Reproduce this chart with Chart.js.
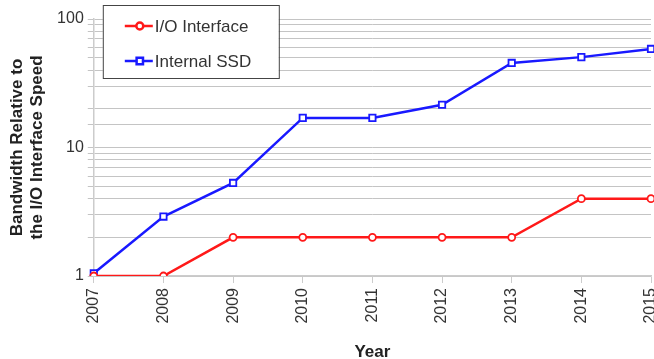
<!DOCTYPE html>
<html>
<head>
<meta charset="utf-8">
<script src="https://cdn.jsdelivr.net/npm/chart.js@4/dist/chart.umd.min.js"></script>
<style>
    html, body { margin: 0; padding: 0; background: #fff; }
    #grafico { width: 654px; height: 359px; }
</style>
</head>
<body>
<div id="grafico"><canvas id="chartBanda"></canvas></div>
<script>
const anos = ['2007', '2008', '2009', '2010', '2011', '2012', '2013', '2014', '2015'];
const interfaceIO = [1, 1, 2, 2, 2, 2, 2, 4, 4];
const ssdInterno = [1.05, 2.9, 5.3, 17, 17, 21.5, 45.5, 50.5, 58.5];
const ticksY = [1, 10, 100];

const FONTE = '"Liberation Sans", Arial, Helvetica, sans-serif';

// legenda desenhada dentro da área do gráfico, com moldura
const legendaCaixa = {
    id: 'legendaCaixa',
    afterDraw(chart) {
        const ctx = chart.ctx;
        const area = chart.chartArea;
        const x = area.left + 9;
        const y = 5;
        ctx.save();
        ctx.fillStyle = '#fff';
        ctx.fillRect(x, y, 176, 73);
        ctx.strokeStyle = '#444';
        ctx.lineWidth = 1;
        ctx.strokeRect(x + 0.5, y + 0.5, 176, 73);

        chart.data.datasets.forEach((ds, i) => {
            const cy = y + 21 + i * 35;
            ctx.strokeStyle = ds.borderColor;
            ctx.lineWidth = 2.5;
            ctx.beginPath();
            ctx.moveTo(x + 22, cy);
            ctx.lineTo(x + 50, cy);
            ctx.stroke();
            ctx.fillStyle = '#fff';
            Chart.helpers.drawPoint(ctx, {
                pointStyle: ds.pointStyle,
                radius: ds.pointRadius,
                borderWidth: 1.8
            }, x + 37, cy);
            ctx.fillStyle = '#333';
            ctx.font = '17px ' + FONTE;
            ctx.textBaseline = 'middle';
            ctx.fillText(ds.label, x + 52, cy + 1);
        });
        ctx.restore();
    }
};

new Chart(document.getElementById('chartBanda'), {
    type: 'line',
    data: {
        labels: anos,
        datasets: [{
            label: 'I/O Interface',
            data: interfaceIO,
            borderColor: 'rgb(255, 25, 25)',
            backgroundColor: '#fff',
            pointBackgroundColor: '#fff',
            pointBorderColor: 'rgb(255, 25, 25)',
            pointStyle: 'circle',
            pointRadius: 3.5,
            pointBorderWidth: 1.8,
            borderWidth: 2.5,
            tension: 0
        }, {
            label: 'Internal SSD',
            data: ssdInterno,
            borderColor: 'rgb(25, 25, 255)',
            backgroundColor: '#fff',
            pointBackgroundColor: '#fff',
            pointBorderColor: 'rgb(25, 25, 255)',
            pointStyle: 'rect',
            pointRadius: 4.5,
            pointBorderWidth: 1.8,
            borderWidth: 2.5,
            tension: 0
        }]
    },
    options: {
        responsive: true,
        maintainAspectRatio: false,
        animation: false,
        layout: {
            autoPadding: false,
            padding: { left: 8, right: 3, top: 19, bottom: 0 }
        },
        scales: {
            x: {
                offset: false,
                afterFit: function (escala) {
                    // o rótulo 2015 fica cortado na borda, como no original
                    escala.paddingRight = 0;
                    escala.paddingLeft = 0;
                },
                grid: {
                    drawOnChartArea: false,
                    drawTicks: true,
                    tickLength: 7,
                    color: '#ccc'
                },
                border: { color: '#ccc', width: 1.5 },
                ticks: {
                    minRotation: 90,
                    maxRotation: 90,
                    padding: 5,
                    color: '#333',
                    font: { family: FONTE, size: 16 }
                },
                title: {
                    display: true,
                    text: 'Year',
                    color: '#222',
                    padding: { top: 14, bottom: -4 },
                    font: { family: FONTE, size: 17, weight: 'bold' }
                }
            },
            y: {
                type: 'logarithmic',
                min: 1,
                max: 100,
                grid: {
                    color: '#c4c4c4',
                    tickLength: 6
                },
                border: { color: '#ccc', width: 1.5 },
                ticks: {
                    autoSkip: false,
                    padding: 4,
                    color: '#333',
                    font: { family: FONTE, size: 16 },
                    callback: function (value) {
                        return ticksY.includes(value) ? String(value) : '';
                    }
                },
                title: {
                    display: true,
                    text: ['Bandwidth Relative to', 'the I/O Interface Speed'],
                    color: '#222',
                    padding: { top: 0, bottom: 6 },
                    font: { family: FONTE, size: 17, weight: 'bold', lineHeight: 1.15 }
                }
            }
        },
        plugins: {
            legend: { display: false },
            tooltip: { enabled: false }
        }
    },
    plugins: [legendaCaixa]
});
</script>
</body>
</html>
